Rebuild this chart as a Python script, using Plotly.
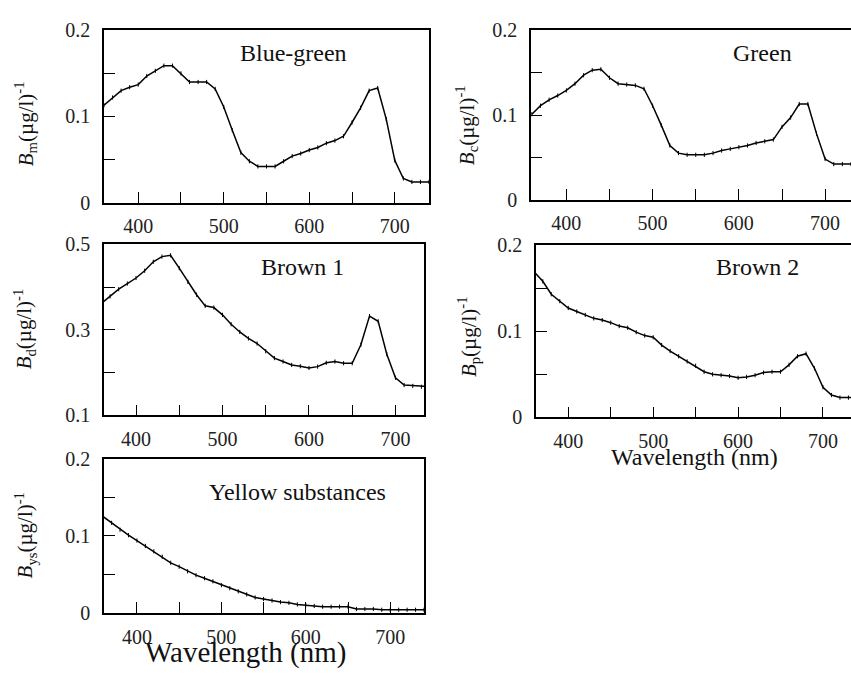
import plotly.graph_objects as go

W, H = 851, 679

wavelength = [360, 370, 380, 390, 400, 410, 420, 430, 440, 450, 460, 470, 480, 490,
              500, 510, 520, 530, 540, 550, 560, 570, 580, 590, 600, 610, 620, 630,
              640, 650, 660, 670, 680, 690, 700, 710, 720, 730, 740]

blue_green = [0.113, 0.122, 0.130, 0.134, 0.137, 0.147, 0.153, 0.159, 0.159, 0.150,
              0.140, 0.140, 0.140, 0.132, 0.111, 0.084, 0.058, 0.048, 0.042, 0.042,
              0.042, 0.048, 0.054, 0.057, 0.061, 0.064, 0.069, 0.072, 0.077, 0.093,
              0.110, 0.130, 0.133, 0.097, 0.049, 0.028, 0.024, 0.024, 0.024]

green = [0.101, 0.111, 0.118, 0.123, 0.129, 0.137, 0.147, 0.153, 0.154, 0.144,
         0.137, 0.136, 0.135, 0.131, 0.111, 0.088, 0.064, 0.055, 0.053, 0.053,
         0.053, 0.055, 0.058, 0.060, 0.062, 0.064, 0.067, 0.069, 0.071, 0.086,
         0.097, 0.113, 0.113, 0.078, 0.048, 0.042, 0.042, 0.042, 0.042]

brown1 = [0.362, 0.378, 0.395, 0.408, 0.421, 0.438, 0.459, 0.471, 0.474, 0.444,
          0.412, 0.382, 0.356, 0.352, 0.335, 0.313, 0.295, 0.280, 0.268, 0.250,
          0.234, 0.226, 0.218, 0.215, 0.211, 0.214, 0.223, 0.226, 0.222, 0.222,
          0.265, 0.332, 0.320, 0.243, 0.188, 0.171, 0.169, 0.167, 0.167]

brown2 = [0.169, 0.158, 0.143, 0.135, 0.127, 0.123, 0.119, 0.115, 0.113, 0.110,
          0.106, 0.104, 0.099, 0.095, 0.093, 0.084, 0.077, 0.071, 0.065, 0.060,
          0.053, 0.050, 0.049, 0.048, 0.046, 0.047, 0.049, 0.052, 0.053, 0.053,
          0.061, 0.071, 0.074, 0.057, 0.035, 0.026, 0.023, 0.023, 0.023]

yellow = [0.125, 0.117, 0.108, 0.101, 0.094, 0.087, 0.080, 0.073, 0.065, 0.060,
          0.054, 0.049, 0.045, 0.041, 0.036, 0.032, 0.028, 0.024, 0.020, 0.018,
          0.016, 0.014, 0.013, 0.011, 0.010, 0.009, 0.008, 0.008, 0.008, 0.008,
          0.005, 0.005, 0.005, 0.004, 0.004, 0.004, 0.004, 0.004, 0.004]

panel_names = ["Blue-green", "Green", "Brown 1", "Brown 2", "Yellow substances"]
y_titles = ["<i>B</i><sub>m</sub>(µg/l)<sup>-1</sup>",
            "<i>B</i><sub>c</sub>(µg/l)<sup>-1</sup>",
            "<i>B</i><sub>d</sub>(µg/l)<sup>-1</sup>",
            "<i>B</i><sub>p</sub>(µg/l)<sup>-1</sup>",
            "<i>B</i><sub>ys</sub>(µg/l)<sup>-1</sup>"]
series = [blue_green, green, brown1, brown2, yellow]

x_tickvals = [400, 450, 500, 550, 600, 650, 700]
x_ticktext = ["400", "", "500", "", "600", "", "700"]
y_tickvals_std = [0, 0.05, 0.1, 0.15, 0.2]
y_ticktext_std = ["0", "", "0.1", "", "0.2"]
y_tickvals_b1 = [0.1, 0.2, 0.3, 0.4, 0.5]
y_ticktext_b1 = ["0.1", "", "0.3", "", "0.5"]

# pixel boxes: (left, right, top, bottom)
boxes = [(104, 429, 20, 198), (531, 851, 20, 195), (104, 424, 241, 418),
         (536, 851, 242, 420), (104, 424, 463, 622)]
x_ranges = [[360, 740], [359, 730], [363, 733], [362, 733], [361, 740]]
y_ranges = [[0, 0.2], [0, 0.2], [0.1, 0.5], [0, 0.2], [0, 0.2]]
label_pos = [(293, 43), (762, 43), (302, 265), (757, 265), (297, 497)]
ytitle_pos = [(25, 117), (466, 118), (24, 329), (468, 337), (25, 542)]
right_line = [True, False, True, False, True]

FONT = "Liberation Serif"

fig = go.Figure()
layout = dict(width=W, height=H, autosize=False,
              margin=dict(l=0, r=0, t=0, b=0),
              paper_bgcolor="white", plot_bgcolor="white",
              showlegend=False, font=dict(family=FONT, color="black"))
annotations = []
for i in range(5):
    xa = "x" if i == 0 else f"x{i+1}"
    ya = "y" if i == 0 else f"y{i+1}"
    fig.add_trace(go.Scatter(
        x=wavelength, y=series[i], xaxis=xa, yaxis=ya, mode="lines+markers",
        line=dict(color="black", width=1.5),
        marker=dict(symbol="line-ns", size=3, line=dict(color="black", width=1)),
        cliponaxis=True))
    l, r, t, b = boxes[i]
    xkey = "xaxis" if i == 0 else f"xaxis{i+1}"
    ykey = "yaxis" if i == 0 else f"yaxis{i+1}"
    layout[xkey] = dict(domain=[l / W, r / W], anchor=ya, range=x_ranges[i],
                        tickvals=x_tickvals, ticktext=x_ticktext,
                        ticks="inside", ticklen=11, tickwidth=1.3, tickcolor="black",
                        showline=True, linecolor="black", linewidth=1.6, mirror=True,
                        showgrid=False, zeroline=False, ticklabelstandoff=5,
                        tickfont=dict(family=FONT, size=20, color="#222"))
    tv, tt = (y_tickvals_b1, y_ticktext_b1) if i == 2 else (y_tickvals_std, y_ticktext_std)
    layout[ykey] = dict(domain=[1 - b / H, 1 - t / H], anchor=xa, range=y_ranges[i],
                        tickvals=tv, ticktext=tt,
                        ticks="inside", ticklen=11, tickwidth=1.3, tickcolor="black",
                        showline=True, linecolor="black", linewidth=1.6,
                        mirror=right_line[i],
                        showgrid=False, zeroline=False, ticklabelstandoff=8,
                        tickfont=dict(family=FONT, size=20, color="#222"))
    lx, ly = label_pos[i]
    annotations.append(dict(text=panel_names[i], x=lx / W, y=1 - ly / H,
                            xref="paper", yref="paper", showarrow=False,
                            xanchor="center", yanchor="middle",
                            font=dict(family=FONT, size=24, color="#111")))
    tx, ty = ytitle_pos[i]
    annotations.append(dict(text=y_titles[i], x=tx / W, y=1 - ty / H,
                            xref="paper", yref="paper", showarrow=False,
                            textangle=-90, xanchor="center", yanchor="middle",
                            font=dict(family=FONT, size=21, color="#111")))

for cx, cy, fs in [(245, 663, 29), (694, 461, 24)]:
    annotations.append(dict(text="Wavelength (nm)", x=cx / W, y=1 - cy / H,
                            xref="paper", yref="paper", showarrow=False,
                            xanchor="center", yanchor="middle",
                            font=dict(family=FONT, size=fs, color="#111")))

layout["annotations"] = annotations
fig.update_layout(**layout)
fig.write_html("out.html")
